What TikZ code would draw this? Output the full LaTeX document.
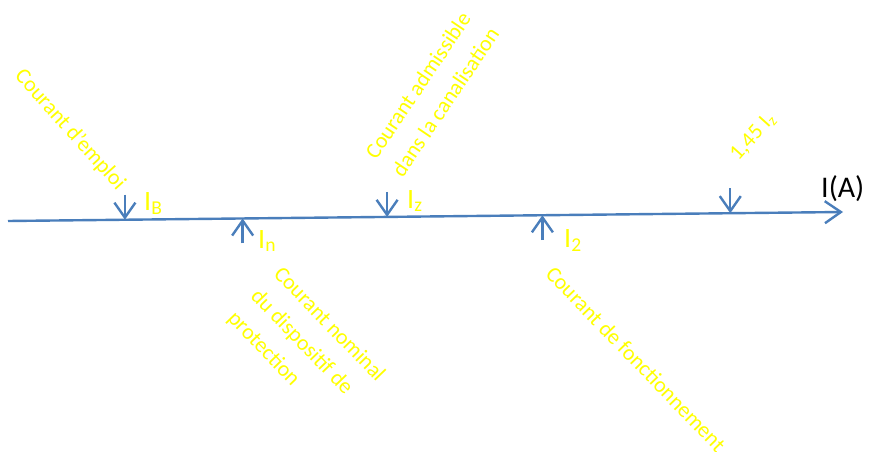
\documentclass[tikz,border=0pt]{standalone}
\usepackage{fontspec}
\setmainfont{Carlito}
\usepackage{xcolor}
\usepackage{tikz}
\usetikzlibrary{calc}
\usetikzlibrary{arrows.meta}

\definecolor{axeblue}{HTML}{4A7EBB}
\definecolor{noteyellow}{HTML}{FFFF00}

\begin{document}
\begin{tikzpicture}[x=1pt, y=-1pt,
	axe/.style={line width=2.4pt, axeblue, -{Straight Barb[length=16pt, width=22pt, line width=2.4pt]}},
	repere/.style={line width=2.4pt, axeblue, -{Straight Barb[length=15pt, width=21pt, line width=2.4pt]}},
	note/.style={text=noteyellow, font=\fontsize{22}{32}\selectfont, align=left, inner sep=0pt},
	grandeur/.style={text=noteyellow, font=\fontsize{28}{30}\selectfont, inner sep=0pt, anchor=base west}]

\useasboundingbox (0,0) rectangle (876,452);

% axe des courants
\coordinate (debut) at (8,221);
\coordinate (fin) at (843,212);
\draw [axe] (debut) -- (fin);
\node [anchor=base west, inner sep=0pt, font=\fontsize{30}{32}\selectfont] (unite) at (821,197) {I(A)};

% points sur l'axe
\coordinate (pB) at ($(debut)!0.140!(fin)$);
\coordinate (pn) at ($(debut)!0.281!(fin)$);
\coordinate (pz) at ($(debut)!0.454!(fin)$);
\coordinate (p2) at ($(debut)!0.640!(fin)$);
\coordinate (pk) at ($(debut)!0.865!(fin)$);

\coordinate (hB) at ($(pB)+(0,-25)$);
\coordinate (bn) at ($(pn)+(0,25)$);
\coordinate (hz) at ($(pz)+(0,-25)$);
\coordinate (b2) at ($(p2)+(0,25)$);
\coordinate (hk) at ($(pk)+(0,-25)$);

\draw [repere] (hB) -- (pB);
\draw [repere] (bn) -- (pn);
\draw [repere] (hz) -- (pz);
\draw [repere] (b2) -- (p2);
\draw [repere] (hk) -- (pk);

% grandeurs
\node [grandeur] (iB) at (144,210) {I\textsubscript{B}};
\node [grandeur] (in) at (258,248) {I\textsubscript{n}};
\node [grandeur] (iz) at (407,208) {I\textsubscript{z}};
\node [grandeur] (i2) at (564,247) {I\textsubscript{2}};

% commentaires
\node [note, rotate=-48] (emploi) at (70,130) {Courant d’emploi};
\node [note, rotate=56] (admis) at (432,93) {Courant admissible\\dans la canalisation};
\node [note, rotate=-46] (nominal) at (306,347) {Courant nominal\\du dispositif de\\protection};
\node [note, rotate=-46] (fonct) at (636,359) {Courant de fonctionnement};
\node [note, rotate=48, font=\fontsize{22}{24}\selectfont] (limite) at (753,137) {1,45 I\textsubscript{z}};

\end{tikzpicture}
\end{document}
